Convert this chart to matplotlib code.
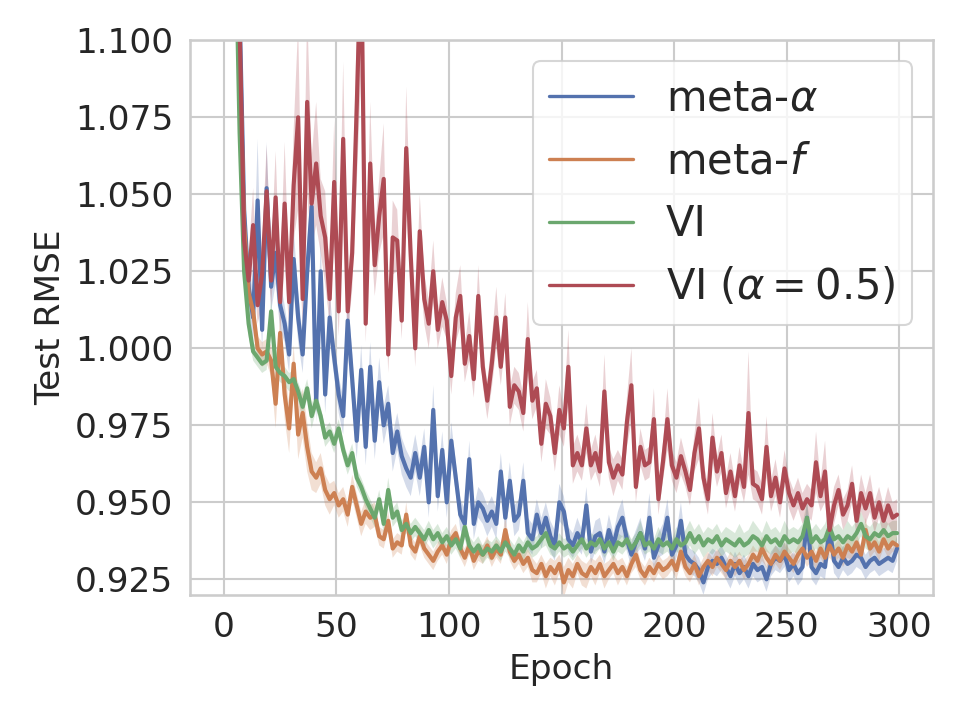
import matplotlib
matplotlib.use("Agg")
import matplotlib.pyplot as plt
from matplotlib.ticker import FormatStrFormatter
import numpy as np
import seaborn as sns

# epochs sampled every 2 (odd epochs 1..299)
EPOCHS = list(range(1, 300, 2))

META_ALPHA = [
    1.520, 1.300, 1.180, 1.110, 1.045, 1.020, 1.010, 1.048, 1.006, 1.052,
    1.020, 1.031, 1.014, 1.008, 0.998, 1.029, 1.010, 0.998, 1.025, 1.046,
    0.982, 1.025, 0.985, 1.010, 0.997, 0.985, 0.978, 1.009, 0.990, 0.970,
    0.993, 0.968, 0.994, 0.970, 0.989, 0.975, 0.982, 0.966, 0.973, 0.965,
    0.961, 0.958, 0.966, 0.958, 0.968, 0.950, 0.980, 0.952, 0.967, 0.950,
    0.970, 0.958, 0.946, 0.943, 0.964, 0.943, 0.950, 0.948, 0.944, 0.947,
    0.943, 0.960, 0.945, 0.957, 0.944, 0.946, 0.957, 0.940, 0.938, 0.946,
    0.940, 0.945, 0.939, 0.936, 0.950, 0.947, 0.938, 0.936, 0.940, 0.937,
    0.949, 0.934, 0.939, 0.940, 0.934, 0.941, 0.936, 0.942, 0.945, 0.938,
    0.933, 0.937, 0.940, 0.935, 0.945, 0.932, 0.936, 0.938, 0.945, 0.933,
    0.936, 0.944, 0.933, 0.931, 0.930, 0.928, 0.924, 0.929, 0.931, 0.930,
    0.932, 0.929, 0.926, 0.930, 0.927, 0.929, 0.926, 0.930, 0.928, 0.929,
    0.925, 0.930, 0.932, 0.931, 0.933, 0.928, 0.930, 0.927, 0.929, 0.945,
    0.929, 0.927, 0.930, 0.929, 0.942, 0.931, 0.929, 0.932, 0.930, 0.931,
    0.933, 0.932, 0.929, 0.931, 0.932, 0.930, 0.931, 0.932, 0.931, 0.935,
]
META_ALPHA_CI = [
    0.030, 0.020, 0.015, 0.010, 0.010, 0.008, 0.008, 0.020, 0.006, 0.015,
    0.008, 0.010, 0.008, 0.006, 0.006, 0.010, 0.008, 0.006, 0.008, 0.012,
    0.006, 0.010, 0.006, 0.008, 0.006, 0.006, 0.006, 0.010, 0.008, 0.006,
    0.008, 0.006, 0.008, 0.006, 0.008, 0.006, 0.006, 0.006, 0.006, 0.006,
    0.006, 0.006, 0.006, 0.006, 0.006, 0.005, 0.008, 0.005, 0.006, 0.005,
    0.006, 0.005, 0.005, 0.005, 0.006, 0.005, 0.005, 0.005, 0.005, 0.005,
    0.005, 0.006, 0.005, 0.006, 0.005, 0.005, 0.006, 0.005, 0.005, 0.005,
    0.005, 0.005, 0.005, 0.005, 0.006, 0.005, 0.004, 0.004, 0.005, 0.004,
    0.006, 0.004, 0.005, 0.005, 0.004, 0.005, 0.004, 0.005, 0.006, 0.004,
    0.004, 0.004, 0.005, 0.004, 0.008, 0.004, 0.004, 0.005, 0.006, 0.004,
    0.004, 0.006, 0.004, 0.004, 0.004, 0.004, 0.004, 0.004, 0.004, 0.004,
    0.004, 0.004, 0.004, 0.004, 0.004, 0.004, 0.004, 0.004, 0.004, 0.004,
    0.004, 0.004, 0.004, 0.004, 0.004, 0.004, 0.004, 0.004, 0.004, 0.006,
    0.004, 0.004, 0.004, 0.004, 0.005, 0.004, 0.004, 0.004, 0.004, 0.004,
    0.004, 0.004, 0.004, 0.004, 0.004, 0.004, 0.004, 0.004, 0.004, 0.004,
]

META_F = [
    1.500, 1.280, 1.160, 1.095, 1.040, 1.018, 1.012, 1.000, 0.998, 0.999,
    0.996, 0.982, 1.005, 0.985, 0.974, 0.995, 0.972, 0.979, 0.968, 0.960,
    0.958, 0.961, 0.954, 0.951, 0.953, 0.949, 0.951, 0.946, 0.955, 0.949,
    0.943, 0.947, 0.945, 0.946, 0.939, 0.938, 0.944, 0.935, 0.937, 0.936,
    0.946, 0.936, 0.934, 0.939, 0.935, 0.933, 0.931, 0.934, 0.936, 0.933,
    0.938, 0.940, 0.935, 0.932, 0.936, 0.931, 0.934, 0.933, 0.936, 0.932,
    0.935, 0.933, 0.941, 0.934, 0.931, 0.933, 0.930, 0.932, 0.928, 0.927,
    0.930, 0.926, 0.929, 0.927, 0.930, 0.924, 0.928, 0.926, 0.930, 0.927,
    0.926, 0.929, 0.927, 0.930, 0.926, 0.928, 0.930, 0.927, 0.929, 0.926,
    0.930, 0.933, 0.928, 0.926, 0.929, 0.927, 0.930, 0.928, 0.929, 0.931,
    0.928, 0.934, 0.929, 0.927, 0.930, 0.926, 0.929, 0.931, 0.929, 0.932,
    0.930, 0.928, 0.931, 0.929, 0.931, 0.928, 0.930, 0.933, 0.931, 0.935,
    0.932, 0.930, 0.933, 0.931, 0.934, 0.932, 0.930, 0.933, 0.935, 0.932,
    0.934, 0.931, 0.935, 0.932, 0.936, 0.933, 0.935, 0.932, 0.936, 0.934,
    0.937, 0.933, 0.941, 0.935, 0.937, 0.934, 0.938, 0.935, 0.937, 0.936,
]
META_F_CI = [
    0.030, 0.020, 0.015, 0.010, 0.006, 0.004, 0.004, 0.004, 0.004, 0.004,
    0.005, 0.008, 0.006, 0.008, 0.008, 0.006, 0.008, 0.008, 0.008, 0.006,
    0.005, 0.005, 0.005, 0.005, 0.004, 0.004, 0.004, 0.004, 0.004, 0.004,
    0.004, 0.004, 0.004, 0.004, 0.003, 0.003, 0.003, 0.003, 0.003, 0.003,
    0.004, 0.003, 0.003, 0.003, 0.003, 0.003, 0.003, 0.003, 0.003, 0.003,
    0.003, 0.003, 0.003, 0.003, 0.003, 0.003, 0.003, 0.003, 0.003, 0.003,
    0.003, 0.003, 0.004, 0.003, 0.003, 0.003, 0.003, 0.003, 0.004, 0.003,
    0.003, 0.004, 0.003, 0.004, 0.003, 0.005, 0.004, 0.004, 0.003, 0.004,
    0.004, 0.003, 0.004, 0.003, 0.004, 0.003, 0.003, 0.004, 0.003, 0.003,
    0.003, 0.004, 0.003, 0.003, 0.003, 0.003, 0.003, 0.003, 0.003, 0.003,
    0.003, 0.004, 0.003, 0.003, 0.003, 0.003, 0.003, 0.003, 0.003, 0.003,
    0.003, 0.003, 0.003, 0.003, 0.003, 0.003, 0.003, 0.003, 0.003, 0.004,
    0.003, 0.003, 0.003, 0.003, 0.003, 0.003, 0.003, 0.003, 0.003, 0.003,
    0.003, 0.003, 0.003, 0.003, 0.004, 0.003, 0.003, 0.003, 0.004, 0.003,
    0.003, 0.003, 0.004, 0.003, 0.003, 0.003, 0.003, 0.003, 0.003, 0.003,
]

VI = [
    1.480, 1.260, 1.140, 1.070, 1.025, 1.008, 0.999, 0.997, 0.995, 0.996,
    1.012, 0.994, 0.992, 0.991, 0.989, 0.990, 0.986, 0.981, 0.987, 0.978,
    0.983, 0.978, 0.971, 0.973, 0.969, 0.974, 0.967, 0.962, 0.966, 0.958,
    0.955, 0.951, 0.948, 0.945, 0.951, 0.943, 0.954, 0.945, 0.947, 0.941,
    0.943, 0.940, 0.942, 0.940, 0.938, 0.941, 0.938, 0.940, 0.937, 0.939,
    0.936, 0.938, 0.935, 0.942, 0.936, 0.934, 0.936, 0.933, 0.935, 0.934,
    0.936, 0.934, 0.937, 0.935, 0.933, 0.936, 0.934, 0.937, 0.935, 0.936,
    0.938, 0.940, 0.936, 0.935, 0.937, 0.935, 0.936, 0.934, 0.936, 0.938,
    0.935, 0.937, 0.936, 0.938, 0.935, 0.937, 0.934, 0.937, 0.936, 0.938,
    0.935, 0.937, 0.940, 0.936, 0.937, 0.935, 0.938, 0.936, 0.937, 0.935,
    0.938, 0.936, 0.937, 0.940, 0.937, 0.939, 0.936, 0.938, 0.937, 0.939,
    0.936, 0.938, 0.937, 0.936, 0.938, 0.936, 0.937, 0.939, 0.938, 0.936,
    0.939, 0.937, 0.938, 0.936, 0.939, 0.937, 0.938, 0.937, 0.939, 0.945,
    0.937, 0.939, 0.937, 0.938, 0.942, 0.938, 0.939, 0.937, 0.939, 0.938,
    0.940, 0.943, 0.939, 0.938, 0.940, 0.939, 0.941, 0.939, 0.940, 0.940,
]
VI_CI = [
    0.030, 0.020, 0.015, 0.010, 0.005, 0.004, 0.003, 0.003, 0.003, 0.003,
    0.004, 0.003, 0.003, 0.003, 0.003, 0.003, 0.003, 0.004, 0.003, 0.004,
    0.003, 0.003, 0.003, 0.003, 0.003, 0.003, 0.003, 0.003, 0.003, 0.003,
    0.003, 0.003, 0.003, 0.003, 0.003, 0.003, 0.004, 0.003, 0.003, 0.003,
    0.003, 0.003, 0.003, 0.003, 0.003, 0.003, 0.003, 0.003, 0.003, 0.003,
    0.003, 0.003, 0.003, 0.004, 0.003, 0.003, 0.003, 0.003, 0.003, 0.003,
    0.003, 0.003, 0.003, 0.003, 0.003, 0.003, 0.003, 0.003, 0.003, 0.003,
    0.003, 0.004, 0.003, 0.003, 0.003, 0.003, 0.003, 0.003, 0.003, 0.003,
    0.003, 0.003, 0.003, 0.003, 0.003, 0.003, 0.003, 0.003, 0.003, 0.003,
    0.003, 0.003, 0.004, 0.003, 0.003, 0.003, 0.004, 0.003, 0.003, 0.003,
    0.004, 0.003, 0.004, 0.004, 0.004, 0.004, 0.004, 0.004, 0.004, 0.004,
    0.004, 0.004, 0.004, 0.004, 0.005, 0.004, 0.004, 0.005, 0.004, 0.004,
    0.005, 0.004, 0.004, 0.004, 0.005, 0.004, 0.004, 0.004, 0.004, 0.005,
    0.004, 0.004, 0.004, 0.005, 0.005, 0.004, 0.004, 0.004, 0.005, 0.004,
    0.004, 0.004, 0.004, 0.004, 0.004, 0.004, 0.004, 0.004, 0.004, 0.004,
]

VI_HALF = [
    1.450, 1.280, 1.170, 1.105, 1.035, 1.022, 1.040, 1.014, 1.024, 1.051,
    1.022, 1.049, 1.015, 1.047, 1.015, 1.053, 1.075, 1.016, 1.080, 1.047,
    1.060, 1.043, 1.036, 1.016, 1.054, 1.012, 1.068, 1.012, 1.031, 1.078,
    1.130, 1.008, 1.060, 1.027, 1.043, 1.055, 0.998, 1.036, 1.035, 1.009,
    1.065, 1.030, 1.000, 1.038, 1.016, 1.008, 1.025, 1.006, 1.015, 1.009,
    0.991, 1.010, 1.017, 0.995, 1.004, 0.990, 1.017, 0.994, 0.983, 0.995,
    1.010, 0.994, 1.010, 0.981, 0.988, 0.986, 0.979, 1.003, 0.983, 0.987,
    0.969, 0.982, 0.978, 0.966, 0.980, 0.974, 0.994, 0.962, 0.966, 0.962,
    0.974, 0.962, 0.966, 0.960, 0.986, 0.963, 0.958, 0.962, 0.959, 0.976,
    0.988, 0.955, 0.968, 0.962, 0.963, 0.977, 0.951, 0.963, 0.977, 0.962,
    0.958, 0.965, 0.960, 0.954, 0.966, 0.974, 0.958, 0.951, 0.971, 0.960,
    0.966, 0.953, 0.960, 0.952, 0.962, 0.955, 0.979, 0.956, 0.955, 0.951,
    0.968, 0.952, 0.958, 0.950, 0.961, 0.953, 0.949, 0.953, 0.948, 0.951,
    0.949, 0.963, 0.952, 0.960, 0.941, 0.949, 0.954, 0.946, 0.949, 0.956,
    0.944, 0.953, 0.948, 0.953, 0.945, 0.950, 0.944, 0.949, 0.945, 0.946,
]
VI_HALF_CI = [
    0.030, 0.020, 0.015, 0.012, 0.008, 0.008, 0.012, 0.006, 0.010, 0.015,
    0.008, 0.015, 0.008, 0.020, 0.008, 0.018, 0.030, 0.010, 0.030, 0.015,
    0.020, 0.012, 0.015, 0.008, 0.020, 0.008, 0.025, 0.008, 0.012, 0.025,
    0.040, 0.006, 0.020, 0.010, 0.012, 0.018, 0.006, 0.012, 0.010, 0.006,
    0.020, 0.010, 0.006, 0.012, 0.008, 0.008, 0.010, 0.006, 0.008, 0.006,
    0.006, 0.008, 0.010, 0.006, 0.008, 0.006, 0.010, 0.006, 0.006, 0.008,
    0.010, 0.006, 0.008, 0.006, 0.006, 0.006, 0.006, 0.012, 0.006, 0.006,
    0.006, 0.008, 0.006, 0.006, 0.008, 0.006, 0.012, 0.006, 0.006, 0.005,
    0.008, 0.005, 0.006, 0.005, 0.012, 0.005, 0.006, 0.005, 0.005, 0.008,
    0.012, 0.005, 0.006, 0.005, 0.005, 0.010, 0.005, 0.006, 0.010, 0.005,
    0.005, 0.006, 0.005, 0.005, 0.006, 0.010, 0.005, 0.005, 0.008, 0.005,
    0.006, 0.005, 0.006, 0.005, 0.006, 0.005, 0.020, 0.005, 0.005, 0.005,
    0.010, 0.005, 0.006, 0.005, 0.006, 0.005, 0.005, 0.005, 0.005, 0.005,
    0.005, 0.010, 0.005, 0.010, 0.005, 0.006, 0.005, 0.005, 0.005, 0.006,
    0.005, 0.006, 0.005, 0.006, 0.005, 0.005, 0.005, 0.006, 0.005, 0.005,
]

LABELS = ["meta-$\\alpha$", "meta-$f$", "VI", "VI ($\\alpha=0.5$)"]
MEANS = [META_ALPHA, META_F, VI, VI_HALF]
BANDS = [META_ALPHA_CI, META_F_CI, VI_CI, VI_HALF_CI]
COLORS = ["#5472ae", "#cd8052", "#6ba76e", "#ae4b54"]
Y_TICKS = [0.925, 0.950, 0.975, 1.000, 1.025, 1.050, 1.075, 1.100]
X_TICKS = [0, 50, 100, 150, 200, 250, 300]

sns.set_theme(style="whitegrid")
plt.rcParams["font.family"] = ["DejaVu Sans"]

fig = plt.figure(figsize=(6.4, 4.8), dpi=150)
ax = fig.add_axes([0.198, 0.174, 0.774, 0.770])

x = np.array(EPOCHS)
for label, mean, band, color in zip(LABELS, MEANS, BANDS, COLORS):
    mean = np.array(mean)
    band = np.array(band)
    ax.fill_between(x, mean - band, mean + band, color=color, alpha=0.25, linewidth=0)
    ax.plot(x, mean, color=color, linewidth=2.0, label=label)

ax.set_xlim(-15, 315)
ax.set_ylim(0.92, 1.10)
ax.set_xticks(X_TICKS)
ax.set_yticks(Y_TICKS)
ax.yaxis.set_major_formatter(FormatStrFormatter("%.3f"))
ax.tick_params(labelsize=16.5, pad=8, length=0, colors=".15")
ax.set_xlabel("Epoch", fontsize=16.5, color=".15")
ax.set_ylabel("Test RMSE", fontsize=16.5, color=".15")
leg = ax.legend(loc="upper right", fontsize=20)
for line in leg.get_lines():
    line.set_linewidth(1.6)

fig.savefig("out.png", dpi=150)
